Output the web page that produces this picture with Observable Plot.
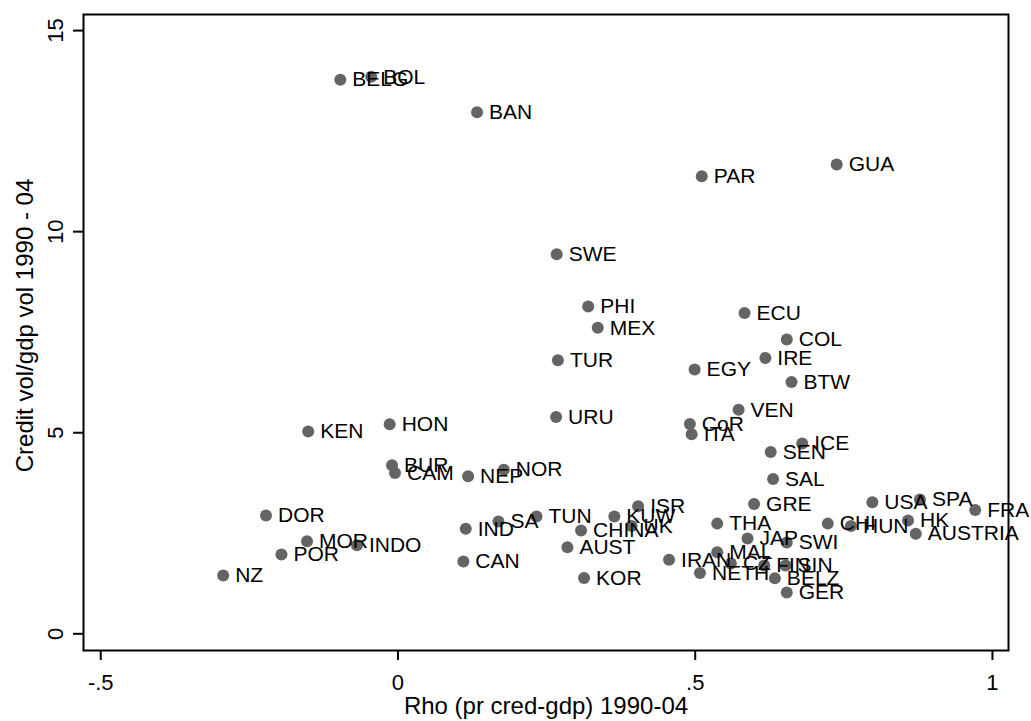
<!DOCTYPE html>
<html><head><meta charset="utf-8">
<script src="https://cdn.jsdelivr.net/npm/d3@7"></script>
<script src="https://cdn.jsdelivr.net/npm/@observablehq/plot@0.6"></script>
<style>body{margin:0;background:#fff}</style>
</head><body><div id="chart"></div>
<script>
const countries = ["BELG","BOL","BAN","PAR","GUA","SWE","PHI","MEX","ECU","COL","TUR","IRE","EGY","BTW","VEN","URU","CoR","ITA","KEN","HON","ICE","SEN","BUR","CAM","NEP","NOR","SAL","USA","SPA","GRE","ISR","FRA","DOR","TUN","KUW","SA","HK","THA","CHI","HUN","UK","IND","CHINA","AUSTRIA","JAP","MOR","SWI","INDO","AUST","MAL","POR","IRAN","CAN","CZ","FIN","SIN","NETH","NZ","KOR","BELZ","GER"];
const rho = [-0.097,-0.045,0.133,0.511,0.738,0.267,0.320,0.336,0.583,0.654,0.269,0.618,0.499,0.662,0.573,0.266,0.491,0.494,-0.151,-0.014,0.680,0.627,-0.010,-0.005,0.118,0.178,0.631,0.798,0.878,0.599,0.404,0.971,-0.222,0.233,0.364,0.169,0.858,0.537,0.723,0.762,0.393,0.114,0.308,0.871,0.588,-0.153,0.654,-0.069,0.285,0.537,-0.196,0.456,0.110,0.560,0.616,0.652,0.508,-0.294,0.313,0.634,0.654];
const credit = [13.78,13.85,12.97,11.38,11.67,9.44,8.14,7.61,7.98,7.32,6.80,6.86,6.57,6.26,5.57,5.39,5.22,4.96,5.03,5.21,4.73,4.52,4.19,4.00,3.92,4.08,3.85,3.27,3.34,3.23,3.17,3.08,2.94,2.92,2.92,2.79,2.82,2.74,2.74,2.68,2.68,2.61,2.57,2.49,2.37,2.30,2.27,2.20,2.15,2.03,1.97,1.84,1.80,1.75,1.70,1.70,1.51,1.45,1.39,1.38,1.03];
const xTicks = [-0.5, 0, 0.5, 1];
const xTickLabels = ["-.5", "0", ".5", "1"];
const yTicks = [0, 5, 10, 15];
const yTickLabels = ["0", "5", "10", "15"];
const xTitle = "Rho (pr cred-gdp) 1990-04";
const yTitle = "Credit vol/gdp vol 1990 - 04";

const data = countries.map((c, i) => ({c, x: rho[i], y: credit[i]}));

const chart = Plot.plot({
  width: 1031, height: 721,
  marginLeft: 83, marginRight: 23, marginTop: 14, marginBottom: 71,
  style: {fontFamily: "'Liberation Sans', Arial, sans-serif", background: "#fff", color: "#000"},
  x: {domain: [-0.529, 1.027]},
  y: {domain: [-0.415, 15.40]},
  marks: [
    Plot.frame({stroke: "#000", strokeWidth: 2}),
    Plot.axisX({ticks: xTicks, tickSize: 10, tickPadding: 14, strokeWidth: 2,
      tickFormat: d => xTickLabels[xTicks.indexOf(d)], fontSize: 22, label: null}),
    Plot.axisY({ticks: yTicks, tickSize: 10, tickPadding: 11, tickRotate: -90, strokeWidth: 2,
      tickFormat: d => yTickLabels[yTicks.indexOf(d)], fontSize: 22, label: null}),
    Plot.dot(data, {x: "x", y: "y", r: 6, fill: "#646464"}),
    Plot.text(data, {x: "x", y: "y", text: "c", dx: 12, textAnchor: "start", fontSize: 21, fill: "#000"}),
    Plot.text([xTitle], {frameAnchor: "bottom", textAnchor: "middle", dy: 63, lineAnchor: "bottom", fontSize: 24, fill: "#000", style: "letter-spacing:1.2px"}),
    Plot.text([yTitle], {frameAnchor: "left", textAnchor: "middle", rotate: -90, dx: -68, dy: -7, lineAnchor: "top", fontSize: 24, fill: "#000", style: "letter-spacing:0.4px"})
  ]
});
document.getElementById("chart").appendChild(chart);
</script>
</body></html>
